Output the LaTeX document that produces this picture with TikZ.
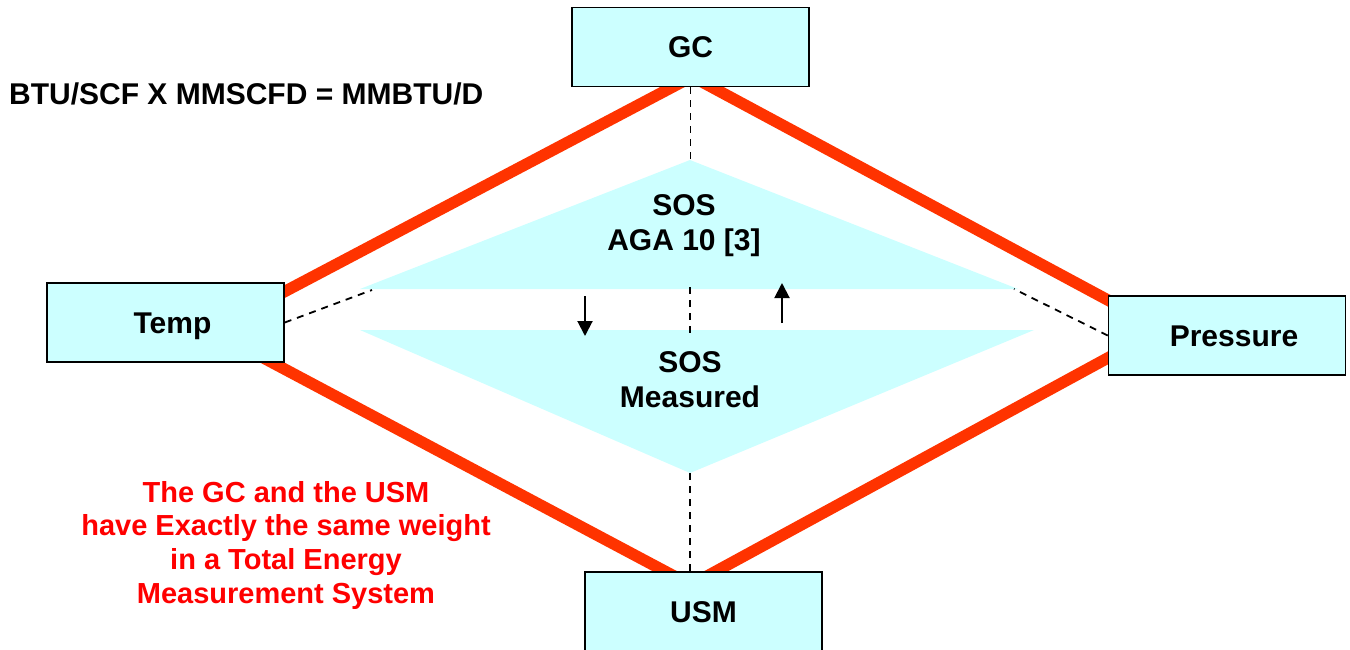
\documentclass[tikz,border=0pt]{standalone}
\usepackage{fontspec}
\setmainfont{Liberation Sans}
\usetikzlibrary{arrows.meta,backgrounds}
\definecolor{boxfill}{HTML}{CCFFFF}
\definecolor{redline}{HTML}{FF3300}
\definecolor{redtext}{HTML}{FF0000}
\begin{document}
\begin{tikzpicture}[x=1pt,y=-1pt,
  box/.style={draw=black, line width=1.5pt, fill=boxfill, minimum width=237pt,
    minimum height=79pt, inner sep=0pt, font=\fontsize{30}{36}\selectfont\bfseries,
    text height=21.5pt, text depth=0pt},
  redlink/.style={draw=redline, line width=11.5pt, shorten <=-15pt, shorten >=-15pt},
  dashlink/.style={draw=black, line width=1.8pt, dash pattern=on 7pt off 6pt},
  arrowlink/.style={draw=black, line width=2pt, -{Triangle[length=15pt,width=15pt]}},
  tri/.style={fill=boxfill, draw=none},
  lbl/.style={font=\fontsize{30}{36}\selectfont\bfseries, inner sep=0pt, anchor=base},
  redlbl/.style={font=\fontsize{29}{34}\selectfont\bfseries, text=redtext, inner sep=0pt, anchor=base}
]
\useasboundingbox (0,0) rectangle (1350,649);

% triangles
\coordinate (ta) at (690,160);
\coordinate (tl) at (360,289);
\coordinate (tr) at (1018,289);
\coordinate (bl) at (360,330);
\coordinate (br) at (1034,330);
\coordinate (tb) at (690,473);
\fill[tri] (ta) -- (tr) -- (tl) -- cycle;
\fill[tri] (bl) -- (br) -- (tb) -- cycle;

% boxes
\node[box] (GC) at (690.5,47) {GC};
\node[box] (Temp) at (165.5,322.5) {\hspace*{14pt}Temp};
\node[box] (Pressure) at (1227,335.5) {\hspace*{14pt}Pressure};
\node[box, minimum height=80pt] (USM) at (703.5,612) {USM};

% red links
\begin{scope}[on background layer]
\draw[redlink] ([xshift=-18.5pt]GC.south) -- ([yshift=31pt]Temp.east);
\draw[redlink] ([xshift=21.5pt]GC.south) -- ([yshift=35.5pt]Pressure.west);
\draw[redlink] ([xshift=-14pt,yshift=1pt]Temp.south east) -- ([xshift=-38.5pt]USM.north);
\draw[redlink] ([yshift=-22.5pt]Pressure.west) -- ([xshift=12.5pt]USM.north);
\end{scope}

% dashed links
\coordinate (tlend) at (372,290);
\coordinate (trend) at (1014,289);
\coordinate (m1) at (690,287);
\coordinate (m2) at (690,337);
\draw[dashlink] (GC.south) -- (GC.south |- ta);
\draw[dashlink] (Temp.east) -- (tlend);
\draw[dashlink] (Pressure.west) -- (trend);
\draw[dashlink] (m1) -- (m2);
\draw[dashlink] (tb) -- (tb |- USM.north);

% arrows
\coordinate (d1) at (585,296);
\coordinate (d2) at (585,336);
\coordinate (u1) at (782,323);
\coordinate (u2) at (782,283);
\draw[arrowlink] (d1) -- (d2);
\draw[arrowlink] (u1) -- (u2);

% texts
\node[lbl] (sosA) at (684,215) {SOS};
\node[lbl] (aga) at (684,250) {AGA 10 [3]};
\node[lbl] (sosB) at (690,372) {SOS};
\node[lbl] (meas) at (690,407) {Measured};
\node[lbl, anchor=base west] (btu) at (9,104) {BTU/SCF X MMSCFD = MMBTU/D};
\node[redlbl] (r1) at (286,502) {The GC and the USM};
\node[redlbl] (r2) at (286,535.5) {have Exactly the same weight};
\node[redlbl] (r3) at (286,569.5) {in a Total Energy};
\node[redlbl] (r4) at (286,603) {Measurement System};
\end{tikzpicture}
\end{document}
